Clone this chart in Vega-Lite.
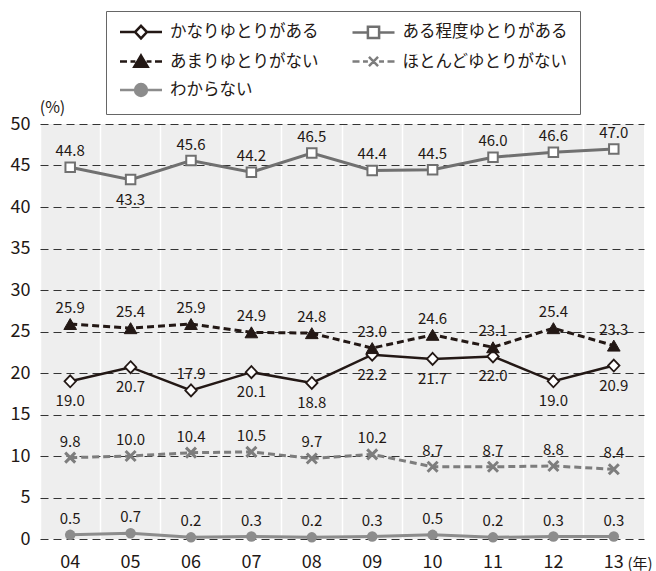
{
  "$schema": "https://vega.github.io/schema/vega-lite/v6.json",
  "width": 604,
  "height": 415,
  "autosize": {"type": "none"},
  "padding": {"left": 40, "top": 124, "right": 12, "bottom": 32},
  "background": "white",
  "config": {
    "font": "Noto Sans CJK JP",
    "view": {"fill": "#eeeeee", "stroke": null},
    "legend": {
      "orient": "none",
      "legendX": 66,
      "legendY": -113,
      "columns": 2,
      "columnPadding": 28.5,
      "rowPadding": 6.5,
      "padding": 12.5,
      "symbolSize": 196,
      "symbolStrokeWidth": 2.5,
      "symbolOpacity": 1,
      "labelOffset": 34.5,
      "labelFontSize": 16.5,
      "labelColor": "#231815",
      "labelLimit": 300,
      "strokeColor": "#666666",
      "fillColor": "white"
    }
  },
  "data": {
    "values": [
      {"year": "04", "series": "かなりゆとりがある", "value": 19.0},
      {"year": "05", "series": "かなりゆとりがある", "value": 20.7},
      {"year": "06", "series": "かなりゆとりがある", "value": 17.9},
      {"year": "07", "series": "かなりゆとりがある", "value": 20.1},
      {"year": "08", "series": "かなりゆとりがある", "value": 18.8},
      {"year": "09", "series": "かなりゆとりがある", "value": 22.2},
      {"year": "10", "series": "かなりゆとりがある", "value": 21.7},
      {"year": "11", "series": "かなりゆとりがある", "value": 22.0},
      {"year": "12", "series": "かなりゆとりがある", "value": 19.0},
      {"year": "13", "series": "かなりゆとりがある", "value": 20.9},
      {"year": "04", "series": "ある程度ゆとりがある", "value": 44.8},
      {"year": "05", "series": "ある程度ゆとりがある", "value": 43.3},
      {"year": "06", "series": "ある程度ゆとりがある", "value": 45.6},
      {"year": "07", "series": "ある程度ゆとりがある", "value": 44.2},
      {"year": "08", "series": "ある程度ゆとりがある", "value": 46.5},
      {"year": "09", "series": "ある程度ゆとりがある", "value": 44.4},
      {"year": "10", "series": "ある程度ゆとりがある", "value": 44.5},
      {"year": "11", "series": "ある程度ゆとりがある", "value": 46.0},
      {"year": "12", "series": "ある程度ゆとりがある", "value": 46.6},
      {"year": "13", "series": "ある程度ゆとりがある", "value": 47.0},
      {"year": "04", "series": "あまりゆとりがない", "value": 25.9},
      {"year": "05", "series": "あまりゆとりがない", "value": 25.4},
      {"year": "06", "series": "あまりゆとりがない", "value": 25.9},
      {"year": "07", "series": "あまりゆとりがない", "value": 24.9},
      {"year": "08", "series": "あまりゆとりがない", "value": 24.8},
      {"year": "09", "series": "あまりゆとりがない", "value": 23.0},
      {"year": "10", "series": "あまりゆとりがない", "value": 24.6},
      {"year": "11", "series": "あまりゆとりがない", "value": 23.1},
      {"year": "12", "series": "あまりゆとりがない", "value": 25.4},
      {"year": "13", "series": "あまりゆとりがない", "value": 23.3},
      {"year": "04", "series": "ほとんどゆとりがない", "value": 9.8},
      {"year": "05", "series": "ほとんどゆとりがない", "value": 10.0},
      {"year": "06", "series": "ほとんどゆとりがない", "value": 10.4},
      {"year": "07", "series": "ほとんどゆとりがない", "value": 10.5},
      {"year": "08", "series": "ほとんどゆとりがない", "value": 9.7},
      {"year": "09", "series": "ほとんどゆとりがない", "value": 10.2},
      {"year": "10", "series": "ほとんどゆとりがない", "value": 8.7},
      {"year": "11", "series": "ほとんどゆとりがない", "value": 8.7},
      {"year": "12", "series": "ほとんどゆとりがない", "value": 8.8},
      {"year": "13", "series": "ほとんどゆとりがない", "value": 8.4},
      {"year": "04", "series": "わからない", "value": 0.5},
      {"year": "05", "series": "わからない", "value": 0.7},
      {"year": "06", "series": "わからない", "value": 0.2},
      {"year": "07", "series": "わからない", "value": 0.3},
      {"year": "08", "series": "わからない", "value": 0.2},
      {"year": "09", "series": "わからない", "value": 0.3},
      {"year": "10", "series": "わからない", "value": 0.5},
      {"year": "11", "series": "わからない", "value": 0.2},
      {"year": "12", "series": "わからない", "value": 0.3},
      {"year": "13", "series": "わからない", "value": 0.3}
    ]
  },
  "encoding": {
    "y": {
      "field": "value",
      "type": "quantitative",
      "scale": {"domain": [0, 50]},
      "axis": {
        "values": [0, 5, 10, 15, 20, 25, 30, 35, 40, 45, 50],
        "grid": true,
        "gridDash": [8, 5],
        "gridColor": "#333333",
        "gridWidth": 1,
        "domain": false,
        "ticks": false,
        "labelFontSize": 18,
        "labelColor": "#231815",
        "labelPadding": 10,
        "title": "(%)",
        "titleAngle": 0,
        "titleX": 12,
        "titleY": -17,
        "titleAlign": "center",
        "titleBaseline": "middle",
        "titleFontSize": 16,
        "titleFontWeight": "normal",
        "titleColor": "#231815"
      }
    }
  },
  "layer": [
    {
      "transform": [{"filter": "datum.series === 'かなりゆとりがある'"}],
      "mark": {"type": "line", "stroke": "#231815", "strokeWidth": 2.5},
      "encoding": {
        "x": {
          "field": "year", "type": "ordinal",
          "scale": {"type": "band", "paddingInner": 0, "paddingOuter": 0},
          "axis": {"orient": "top", "grid": true, "gridColor": "white", "gridWidth": 1.5, "bandPosition": 0, "labels": false, "ticks": false, "domain": false, "title": null}
        }
      }
    },
    {
      "transform": [{"filter": "datum.series === 'ある程度ゆとりがある'"}],
      "mark": {"type": "line", "stroke": "#707070", "strokeWidth": 3},
      "encoding": {
        "x": {"field": "year", "type": "ordinal", "scale": {"type": "band", "paddingInner": 0, "paddingOuter": 0}, "axis": null}
      }
    },
    {
      "transform": [{"filter": "datum.series === 'あまりゆとりがない'"}],
      "mark": {"type": "line", "stroke": "#231815", "strokeWidth": 3, "strokeDash": [7, 4]},
      "encoding": {
        "x": {"field": "year", "type": "ordinal", "scale": {"type": "band", "paddingInner": 0, "paddingOuter": 0}, "axis": null}
      }
    },
    {
      "transform": [{"filter": "datum.series === 'ほとんどゆとりがない'"}],
      "mark": {"type": "line", "stroke": "#7d7d7d", "strokeWidth": 3, "strokeDash": [7, 4]},
      "encoding": {
        "x": {"field": "year", "type": "ordinal", "scale": {"type": "band", "paddingInner": 0, "paddingOuter": 0}, "axis": null}
      }
    },
    {
      "transform": [{"filter": "datum.series === 'わからない'"}],
      "mark": {"type": "line", "stroke": "#8c8c8c", "strokeWidth": 3},
      "encoding": {
        "x": {"field": "year", "type": "ordinal", "scale": {"type": "band", "paddingInner": 0, "paddingOuter": 0}, "axis": null}
      }
    },
    {
      "transform": [{"filter": "datum.year === '04'"}],
      "mark": {"type": "point", "opacity": 0},
      "encoding": {
        "x": {"field": "year", "type": "ordinal", "scale": {"type": "band", "paddingInner": 0, "paddingOuter": 0}, "axis": null},
        "shape": {
          "field": "series", "type": "nominal",
          "scale": {
            "domain": ["かなりゆとりがある", "あまりゆとりがない", "わからない", "ある程度ゆとりがある", "ほとんどゆとりがない"],
            "range": [
              "M-1,0H1.15M2.85,0H5M2,-0.9L2.85,0L2,0.9L1.15,0Z",
              "M-1,0H0M0.5,0H1.2M2.8,0H3.5M4,0H5M2,-0.85L2.95,0.75L1.05,0.75Z",
              "M-1,0H1.15M2.85,0H5M2.85,0A0.85,0.85,0,1,1,1.15,0A0.85,0.85,0,1,1,2.85,0Z",
              "M-1,0H1.2M2.8,0H5M1.2,-0.8H2.8V0.8H1.2Z",
              "M-1,0H0M0.5,0H1.2M2.8,0H3.5M4,0H5M1.35,-0.65L2.65,0.65M1.35,0.65L2.65,-0.65"
            ]
          },
          "legend": {"title": null}
        },
        "fill": {
          "field": "series", "type": "nominal",
          "scale": {
            "domain": ["かなりゆとりがある", "あまりゆとりがない", "わからない", "ある程度ゆとりがある", "ほとんどゆとりがない"],
            "range": ["white", "#231815", "#8c8c8c", "white", "transparent"]
          },
          "legend": {"title": null}
        },
        "stroke": {
          "field": "series", "type": "nominal",
          "scale": {
            "domain": ["かなりゆとりがある", "あまりゆとりがない", "わからない", "ある程度ゆとりがある", "ほとんどゆとりがない"],
            "range": ["#231815", "#231815", "#8c8c8c", "#707070", "#7d7d7d"]
          },
          "legend": {"title": null}
        }
      }
    },
    {
      "transform": [{"filter": "datum.series === 'かなりゆとりがある'"}],
      "mark": {"type": "point", "shape": "M0,-1L0.95,0L0,1L-0.95,0Z", "size": 144, "filled": true, "fill": "white", "stroke": "#231815", "strokeWidth": 1.8, "opacity": 1},
      "encoding": {
        "x": {
          "field": "year", "type": "ordinal",
          "scale": {"type": "band", "paddingInner": 0, "paddingOuter": 0},
          "axis": {"orient": "bottom", "grid": false, "ticks": false, "domain": false, "labelFontSize": 18, "labelColor": "#231815", "labelPadding": 14, "labelAngle": 0,
            "title": "(年)", "titleX": 587, "titleY": 24, "titleAlign": "left", "titleBaseline": "middle", "titleFontSize": 15, "titleFontWeight": "normal", "titleColor": "#231815"}
        }
      }
    },
    {
      "transform": [{"filter": "datum.series === 'ある程度ゆとりがある'"}],
      "mark": {"type": "point", "shape": "square", "size": 90, "filled": true, "fill": "white", "stroke": "#707070", "strokeWidth": 2, "opacity": 1},
      "encoding": {
        "x": {"field": "year", "type": "ordinal", "scale": {"type": "band", "paddingInner": 0, "paddingOuter": 0}, "axis": null}
      }
    },
    {
      "transform": [{"filter": "datum.series === 'あまりゆとりがない'"}],
      "mark": {"type": "point", "shape": "triangle-up", "size": 160, "filled": true, "fill": "#231815", "stroke": "#231815", "strokeWidth": 1, "opacity": 1},
      "encoding": {
        "x": {"field": "year", "type": "ordinal", "scale": {"type": "band", "paddingInner": 0, "paddingOuter": 0}, "axis": null}
      }
    },
    {
      "transform": [{"filter": "datum.series === 'ほとんどゆとりがない'"}],
      "mark": {"type": "point", "shape": "M-1,-1L1,1M-1,1L1,-1", "size": 100, "filled": false, "stroke": "#7d7d7d", "strokeWidth": 3, "opacity": 1},
      "encoding": {
        "x": {"field": "year", "type": "ordinal", "scale": {"type": "band", "paddingInner": 0, "paddingOuter": 0}, "axis": null}
      }
    },
    {
      "transform": [{"filter": "datum.series === 'わからない'"}],
      "mark": {"type": "point", "shape": "circle", "size": 110, "filled": true, "fill": "#8c8c8c", "strokeWidth": 0, "opacity": 1},
      "encoding": {
        "x": {"field": "year", "type": "ordinal", "scale": {"type": "band", "paddingInner": 0, "paddingOuter": 0}, "axis": null}
      }
    },
    {
      "transform": [{"filter": "!((datum.series === 'かなりゆとりがある' && datum.year !== '06') || (datum.series === 'ある程度ゆとりがある' && datum.year === '05'))"}],
      "mark": {"type": "text", "dy": -16, "baseline": "middle", "fontSize": 15, "color": "#231815"},
      "encoding": {
        "x": {"field": "year", "type": "ordinal", "scale": {"type": "band", "paddingInner": 0, "paddingOuter": 0}, "axis": null},
        "text": {"field": "value", "type": "quantitative", "format": ".1f"}
      }
    },
    {
      "transform": [{"filter": "(datum.series === 'かなりゆとりがある' && datum.year !== '06') || (datum.series === 'ある程度ゆとりがある' && datum.year === '05')"}],
      "mark": {"type": "text", "dy": 20, "baseline": "middle", "fontSize": 15, "color": "#231815"},
      "encoding": {
        "x": {"field": "year", "type": "ordinal", "scale": {"type": "band", "paddingInner": 0, "paddingOuter": 0}, "axis": null},
        "text": {"field": "value", "type": "quantitative", "format": ".1f"}
      }
    }
  ],
  "resolve": {"axis": {"x": "independent"}}
}
